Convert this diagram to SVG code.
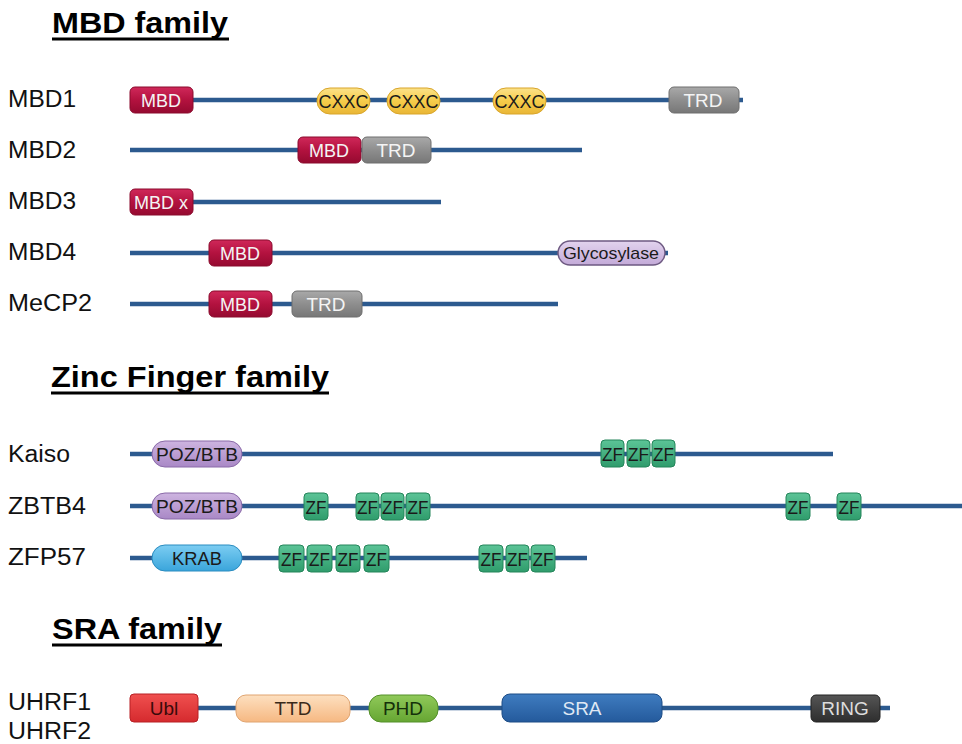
<svg xmlns="http://www.w3.org/2000/svg" width="962" height="744" viewBox="0 0 962 744">
<defs>
<linearGradient id="gMBD" x1="0" y1="0" x2="0" y2="1"><stop offset="0" stop-color="#d0285a"/><stop offset="0.5" stop-color="#b3123f"/><stop offset="1" stop-color="#950a30"/></linearGradient>
<linearGradient id="gCXXC" x1="0" y1="0" x2="0" y2="1"><stop offset="0" stop-color="#fbe28a"/><stop offset="0.5" stop-color="#f6cc4a"/><stop offset="1" stop-color="#e9b636"/></linearGradient>
<linearGradient id="gTRD" x1="0" y1="0" x2="0" y2="1"><stop offset="0" stop-color="#a9a9a9"/><stop offset="0.5" stop-color="#8e8e8e"/><stop offset="1" stop-color="#777777"/></linearGradient>
<linearGradient id="gGly" x1="0" y1="0" x2="0" y2="1"><stop offset="0" stop-color="#e2d3ee"/><stop offset="1" stop-color="#c3aad8"/></linearGradient>
<linearGradient id="gPOZ" x1="0" y1="0" x2="0" y2="1"><stop offset="0" stop-color="#cdb4e0"/><stop offset="1" stop-color="#a988c6"/></linearGradient>
<linearGradient id="gZF" x1="0" y1="0" x2="0" y2="1"><stop offset="0" stop-color="#5cc497"/><stop offset="1" stop-color="#2f9c6c"/></linearGradient>
<linearGradient id="gKRAB" x1="0" y1="0" x2="0" y2="1"><stop offset="0" stop-color="#7ccdf2"/><stop offset="1" stop-color="#3aa5db"/></linearGradient>
<linearGradient id="gUbl" x1="0" y1="0" x2="0" y2="1"><stop offset="0" stop-color="#f0504f"/><stop offset="1" stop-color="#d52a2e"/></linearGradient>
<linearGradient id="gTTD" x1="0" y1="0" x2="0" y2="1"><stop offset="0" stop-color="#fde0c0"/><stop offset="1" stop-color="#f6b882"/></linearGradient>
<linearGradient id="gPHD" x1="0" y1="0" x2="0" y2="1"><stop offset="0" stop-color="#90c95a"/><stop offset="1" stop-color="#66a632"/></linearGradient>
<linearGradient id="gSRA" x1="0" y1="0" x2="0" y2="1"><stop offset="0" stop-color="#3f7cc0"/><stop offset="1" stop-color="#245a9c"/></linearGradient>
<linearGradient id="gRING" x1="0" y1="0" x2="0" y2="1"><stop offset="0" stop-color="#555555"/><stop offset="1" stop-color="#2e2e2e"/></linearGradient>
</defs>
<style>
.title{font-family:"Liberation Sans",Arial,sans-serif;font-weight:bold;font-size:29px;fill:#000}
.ul{stroke:#000;stroke-width:3}
.lab{font-family:"Liberation Sans",Arial,sans-serif;font-size:23px;fill:#111}
.bb{stroke:#2c5a8f;stroke-width:4.5;stroke-linecap:butt}
.dt{font-family:"Liberation Sans",Arial,sans-serif;font-size:19px;text-anchor:middle}
.w{fill:#f4f4f4}
.k{fill:#1a1a1a}
.mbd{fill:url(#gMBD);stroke:#8a0a2c;stroke-width:1}
.cxxc{fill:url(#gCXXC);stroke:#d9a52a;stroke-width:1}
.trd{fill:url(#gTRD);stroke:#6e6e6e;stroke-width:1}
.gly{fill:url(#gGly);stroke:#6e5a82;stroke-width:1.5}
.poz{fill:url(#gPOZ);stroke:#8a6aa8;stroke-width:1}
.zf{fill:url(#gZF);stroke:#24855a;stroke-width:1}
.krab{fill:url(#gKRAB);stroke:#2a8cc0;stroke-width:1}
.ubl{fill:url(#gUbl);stroke:#b82025;stroke-width:1}
.ttd{fill:url(#gTTD);stroke:#e0a470;stroke-width:1}
.phd{fill:url(#gPHD);stroke:#54902a;stroke-width:1}
.sra{fill:url(#gSRA);stroke:#1d4c86;stroke-width:1}
.ring{fill:url(#gRING);stroke:#222;stroke-width:1}
</style>

<g id="titles">
<text class="title" x="52" y="33" textLength="176" lengthAdjust="spacingAndGlyphs">MBD family</text>
<line class="ul" x1="52" y1="39" x2="229" y2="39"/>
<text class="title" x="51" y="387" textLength="278" lengthAdjust="spacingAndGlyphs">Zinc Finger family</text>
<line class="ul" x1="51" y1="393" x2="329" y2="393"/>
<text class="title" x="52" y="639" textLength="170" lengthAdjust="spacingAndGlyphs">SRA family</text>
<line class="ul" x1="52" y1="645" x2="222" y2="645"/>
</g>

<g id="connectors">
<line class="bb" x1="130" y1="100" x2="743" y2="100"/>
<line class="bb" x1="130" y1="150" x2="582" y2="150"/>
<line class="bb" x1="130" y1="202" x2="441" y2="202"/>
<line class="bb" x1="130" y1="253" x2="668" y2="253"/>
<line class="bb" x1="130" y1="304" x2="558" y2="304"/>
<line class="bb" x1="130" y1="454" x2="833" y2="454"/>
<line class="bb" x1="130" y1="506" x2="962" y2="506"/>
<line class="bb" x1="130" y1="558" x2="587" y2="558"/>
<line class="bb" x1="130" y1="708" x2="890" y2="708"/>
</g>

<g id="MBD1">
<text class="lab" x="8" y="107" textLength="68" lengthAdjust="spacingAndGlyphs">MBD1</text>
<rect class="mbd" x="130" y="87" width="63" height="26" rx="5"/><text class="dt w" x="161" y="107" textLength="40" lengthAdjust="spacingAndGlyphs">MBD</text>
<rect class="cxxc" x="317" y="88" width="53" height="26" rx="13"/><text class="dt k" x="343.5" y="108" textLength="50" lengthAdjust="spacingAndGlyphs">CXXC</text>
<rect class="cxxc" x="387" y="88" width="53" height="26" rx="13"/><text class="dt k" x="413.5" y="108" textLength="50" lengthAdjust="spacingAndGlyphs">CXXC</text>
<rect class="cxxc" x="493" y="88" width="53" height="26" rx="13"/><text class="dt k" x="519.5" y="108" textLength="50" lengthAdjust="spacingAndGlyphs">CXXC</text>
<rect class="trd" x="669" y="87" width="70" height="26" rx="5"/><text class="dt w" x="703" y="107" textLength="39" lengthAdjust="spacingAndGlyphs">TRD</text>
</g>

<g id="MBD2">
<text class="lab" x="8" y="158" textLength="68" lengthAdjust="spacingAndGlyphs">MBD2</text>
<rect class="mbd" x="298" y="137" width="63" height="26" rx="5"/><text class="dt w" x="329" y="157" textLength="40" lengthAdjust="spacingAndGlyphs">MBD</text>
<rect class="trd" x="362" y="137" width="69" height="26" rx="5"/><text class="dt w" x="396" y="157" textLength="39" lengthAdjust="spacingAndGlyphs">TRD</text>
</g>

<g id="MBD3">
<text class="lab" x="8" y="209" textLength="68" lengthAdjust="spacingAndGlyphs">MBD3</text>
<rect class="mbd" x="130" y="189" width="63" height="26" rx="5"/><text class="dt w" x="161" y="209" textLength="54" lengthAdjust="spacingAndGlyphs">MBD x</text>
</g>

<g id="MBD4">
<text class="lab" x="8" y="260" textLength="68" lengthAdjust="spacingAndGlyphs">MBD4</text>
<rect class="mbd" x="209" y="240" width="63" height="26" rx="5"/><text class="dt w" x="240" y="260" textLength="40" lengthAdjust="spacingAndGlyphs">MBD</text>
<rect class="gly" x="558" y="241" width="107" height="24" rx="12"/><text class="dt k" x="611" y="259" style="font-size:17px" textLength="96" lengthAdjust="spacingAndGlyphs">Glycosylase</text>
</g>

<g id="MeCP2">
<text class="lab" x="8" y="311" textLength="84" lengthAdjust="spacingAndGlyphs">MeCP2</text>
<rect class="mbd" x="209" y="291" width="63" height="26" rx="5"/><text class="dt w" x="240" y="311" textLength="40" lengthAdjust="spacingAndGlyphs">MBD</text>
<rect class="trd" x="292" y="291" width="70" height="26" rx="5"/><text class="dt w" x="326" y="311" textLength="39" lengthAdjust="spacingAndGlyphs">TRD</text>
</g>

<g id="Kaiso">
<text class="lab" x="8" y="462" textLength="62" lengthAdjust="spacingAndGlyphs">Kaiso</text>
<rect class="poz" x="152" y="441" width="90" height="26" rx="13"/><text class="dt k" x="197" y="461" style="font-size:18px" textLength="82" lengthAdjust="spacingAndGlyphs">POZ/BTB</text>
<rect class="zf" x="601" y="440" width="23" height="27" rx="4"/><text class="dt k" x="612.5" y="461" textLength="21" lengthAdjust="spacingAndGlyphs">ZF</text>
<rect class="zf" x="627" y="440" width="23" height="27" rx="4"/><text class="dt k" x="638.5" y="461" textLength="21" lengthAdjust="spacingAndGlyphs">ZF</text>
<rect class="zf" x="652" y="440" width="23" height="27" rx="4"/><text class="dt k" x="663.5" y="461" textLength="21" lengthAdjust="spacingAndGlyphs">ZF</text>
</g>

<g id="ZBTB4">
<text class="lab" x="8" y="514" textLength="78" lengthAdjust="spacingAndGlyphs">ZBTB4</text>
<rect class="poz" x="152" y="493" width="90" height="26" rx="13"/><text class="dt k" x="197" y="513" style="font-size:18px" textLength="82" lengthAdjust="spacingAndGlyphs">POZ/BTB</text>
<rect class="zf" x="304" y="493" width="24" height="27" rx="4"/><text class="dt k" x="316" y="514" textLength="21" lengthAdjust="spacingAndGlyphs">ZF</text>
<rect class="zf" x="356" y="493" width="23" height="27" rx="4"/><text class="dt k" x="367.5" y="514" textLength="21" lengthAdjust="spacingAndGlyphs">ZF</text>
<rect class="zf" x="381" y="493" width="23" height="27" rx="4"/><text class="dt k" x="392.5" y="514" textLength="21" lengthAdjust="spacingAndGlyphs">ZF</text>
<rect class="zf" x="406" y="493" width="24" height="27" rx="4"/><text class="dt k" x="418" y="514" textLength="21" lengthAdjust="spacingAndGlyphs">ZF</text>
<rect class="zf" x="786" y="493" width="24" height="27" rx="4"/><text class="dt k" x="798" y="514" textLength="21" lengthAdjust="spacingAndGlyphs">ZF</text>
<rect class="zf" x="837" y="493" width="24" height="27" rx="4"/><text class="dt k" x="849" y="514" textLength="21" lengthAdjust="spacingAndGlyphs">ZF</text>
</g>

<g id="ZFP57">
<text class="lab" x="8" y="565" textLength="78" lengthAdjust="spacingAndGlyphs">ZFP57</text>
<rect class="krab" x="152" y="545" width="90" height="26" rx="13"/><text class="dt k" x="197" y="565" textLength="50" lengthAdjust="spacingAndGlyphs">KRAB</text>
<rect class="zf" x="279" y="545" width="25" height="27" rx="4"/><text class="dt k" x="291.5" y="566" textLength="21" lengthAdjust="spacingAndGlyphs">ZF</text>
<rect class="zf" x="307" y="545" width="25" height="27" rx="4"/><text class="dt k" x="319.5" y="566" textLength="21" lengthAdjust="spacingAndGlyphs">ZF</text>
<rect class="zf" x="336" y="545" width="24" height="27" rx="4"/><text class="dt k" x="348" y="566" textLength="21" lengthAdjust="spacingAndGlyphs">ZF</text>
<rect class="zf" x="364" y="545" width="25" height="27" rx="4"/><text class="dt k" x="376.5" y="566" textLength="21" lengthAdjust="spacingAndGlyphs">ZF</text>
<rect class="zf" x="479" y="545" width="24" height="27" rx="4"/><text class="dt k" x="491" y="566" textLength="21" lengthAdjust="spacingAndGlyphs">ZF</text>
<rect class="zf" x="506" y="545" width="23" height="27" rx="4"/><text class="dt k" x="517.5" y="566" textLength="21" lengthAdjust="spacingAndGlyphs">ZF</text>
<rect class="zf" x="531" y="545" width="24" height="27" rx="4"/><text class="dt k" x="543" y="566" textLength="21" lengthAdjust="spacingAndGlyphs">ZF</text>
</g>

<g id="UHRF">
<text class="lab" x="8" y="710" textLength="83" lengthAdjust="spacingAndGlyphs">UHRF1</text>
<text class="lab" x="8" y="739" textLength="83" lengthAdjust="spacingAndGlyphs">UHRF2</text>
<rect class="ubl" x="130" y="694" width="68" height="28" rx="4"/><text class="dt k" x="164" y="715" style="fill:#3a0a0a">Ubl</text>
<rect class="ttd" x="236" y="695" width="114" height="27" rx="10"/><text class="dt k" x="293" y="715" style="fill:#3a2a1a">TTD</text>
<rect class="phd" x="369" y="695" width="69" height="27" rx="12"/><text class="dt k" x="403" y="715" style="fill:#14300a">PHD</text>
<rect class="sra" x="502" y="694" width="160" height="28" rx="8"/><text class="dt w" x="582" y="715" style="fill:#dfe8f4">SRA</text>
<rect class="ring" x="811" y="695" width="69" height="27" rx="5"/><text class="dt w" x="845" y="715" style="fill:#dddddd">RING</text>
</g>
</svg>
